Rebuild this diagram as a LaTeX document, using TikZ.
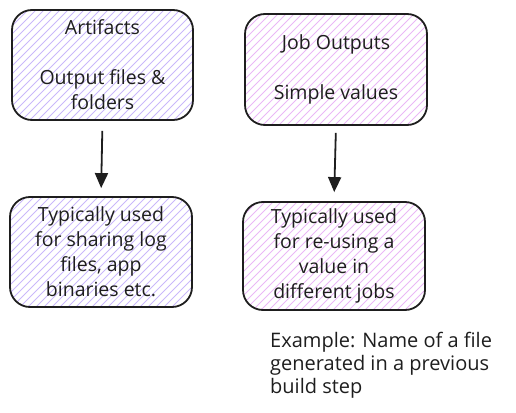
\documentclass[tikz,border=0pt]{standalone}
\usepackage{fontspec}
\setmainfont{Open Sans}
\usetikzlibrary{arrows.meta,calc}
\definecolor{ink}{HTML}{1E1E1E}
\definecolor{hatchA}{HTML}{C9B8FA}
\definecolor{hatchB}{HTML}{EAB8F6}
\tikzset{
  sketchbox/.style={draw=ink, line width=1.8pt, rounded corners=20pt,
    minimum width=#1, align=center, inner sep=0pt,
    font=\fontsize{19.5}{25}\selectfont, text=ink},
  hatchfill/.style={path picture={
      \foreach \i in {-20,...,30}
        \draw[#1, line width=1pt]
          ($(path picture bounding box.south west)+(\i*8pt,-2pt)$) -- ++(250pt,250pt);
    }},
  flowarrow/.style={draw=ink, line width=1.8pt, -{Triangle[length=15pt,width=13pt]}},
}
\begin{document}
\begin{tikzpicture}[x=1pt,y=-1pt]
\useasboundingbox (0,0) rectangle (516,412);
\node[sketchbox=181pt, minimum height=110pt, hatchfill=hatchA] (art) at (102.5,65)
  {Artifacts\\[25pt]Output files \&\\folders};
\node[sketchbox=182pt, minimum height=111pt, hatchfill=hatchB] (job) at (336,69.5)
  {Job Outputs\\[25pt]Simple values};
\node[sketchbox=182pt, minimum height=110pt, hatchfill=hatchA] (artuse) at (101,252)
  {Typically used\\for sharing log\\files, app\\binaries etc.};
\node[sketchbox=182pt, minimum height=108pt, hatchfill=hatchB] (jobuse) at (334,256)
  {Typically used\\for re-using a\\value in\\different jobs};
\node[anchor=west, align=left, inner sep=0pt, text=ink, font=\fontsize{20}{23}\selectfont] (ex) at (270,365)
  {Example: Name of a file\\generated in a previous\\build step};
\draw[flowarrow, shorten <=10pt, shorten >=8pt] (art.south) -- (artuse.north);
\draw[flowarrow, shorten <=7pt, shorten >=9pt] (job.south) -- (jobuse.north);
\end{tikzpicture}
\end{document}
